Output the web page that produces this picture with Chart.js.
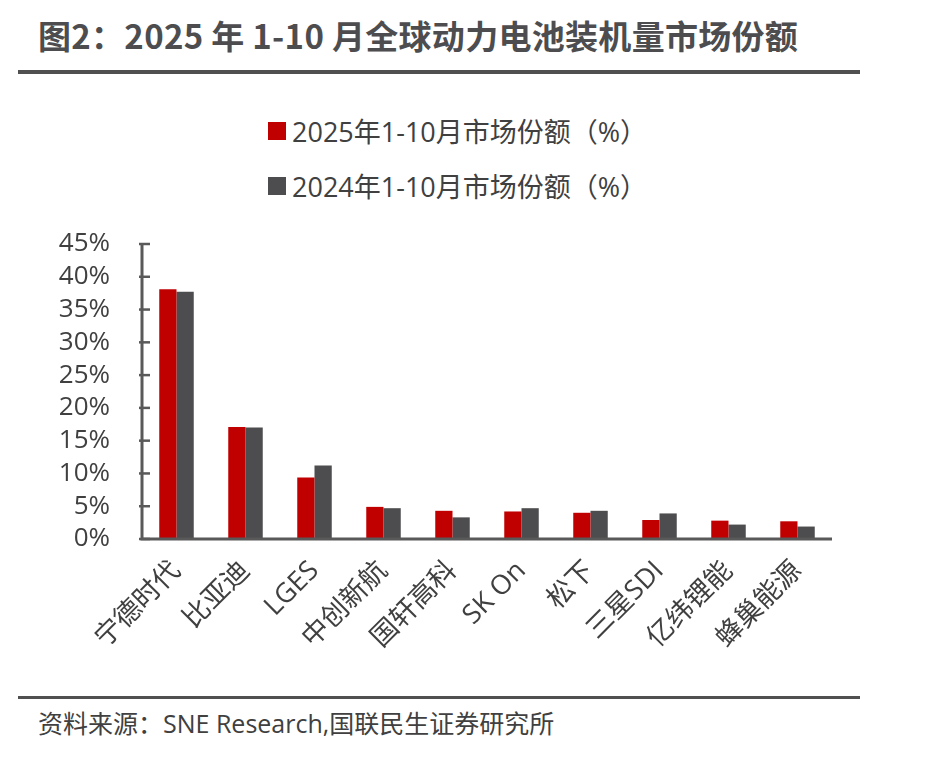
<!DOCTYPE html>
<html>
<head>
<meta charset="utf-8">
<script src="https://cdn.jsdelivr.net/npm/chart.js@4"></script>
<style>
  body { margin: 0; background: #fff; width: 946px; height: 762px; position: relative; overflow: hidden;
         font-family: 'Open Sans', 'Noto Sans CJK SC', sans-serif; color: #404040; }
  .title { position: absolute; left: 38px; top: 11px; font-size: 33px; font-weight: bold; color: #4d4d4f;
           font-family: 'Noto Sans CJK SC', sans-serif; letter-spacing: 0.3px; }
  .rule { position: absolute; left: 18px; width: 842px; background: #505050; }
  .legend { position: absolute; left: 268px; font-size: 27px; color: #404040; }
  .legend div { height: 55px; display: flex; align-items: center; }
  .legend span.sw { display: inline-block; width: 18px; height: 18px; margin-right: 6px; }
  .source { position: absolute; left: 38px; top: 704px; font-size: 25px; color: #404040; }
  #wrap { position: absolute; left: 0; top: 200px; width: 946px; height: 490px; }
</style>
</head>
<body>
<div class="title">图2：2025 年 1-10 月全球动力电池装机量市场份额</div>
<div class="rule" style="top:70px;height:4px"></div>
<div class="legend" id="legend" style="top:103px"></div>
<div id="wrap"><canvas id="chart"></canvas></div>
<div class="rule" style="top:696px;height:3px"></div>
<div class="source">资料来源：SNE Research,国联民生证券研究所</div>
<script>
const companies = ['宁德时代', '比亚迪', 'LGES', '中创新航', '国轩高科', 'SK On', '松下', '三星SDI', '亿纬锂能', '蜂巢能源'];
const share2025 = [38.1, 17.1, 9.4, 4.9, 4.3, 4.2, 4.0, 2.9, 2.8, 2.7];
const share2024 = [37.7, 17.0, 11.2, 4.7, 3.3, 4.7, 4.3, 3.9, 2.2, 1.9];
const yTicks = [0, 5, 10, 15, 20, 25, 30, 35, 40, 45];

const series = [
    { label: '2025年1-10月市场份额（%）', data: share2025, color: '#c00000' },
    { label: '2024年1-10月市场份额（%）', data: share2024, color: '#4d4d4f' }
];

document.getElementById('legend').innerHTML = series.map(s =>
    '<div><span class="sw" style="background:' + s.color + '"></span>' + s.label + '</div>').join('');

// inward tick marks + axis lines like the source
const axisPlugin = {
    id: 'axisPlugin',
    afterDraw(chart) {
        const { ctx, scales: { x, y } } = chart;
        ctx.save();
        ctx.strokeStyle = '#595959';
        ctx.lineWidth = 3;
        ctx.beginPath();
        ctx.moveTo(x.left, y.getPixelForValue(45));
        ctx.lineTo(x.left, y.getPixelForValue(0));
        ctx.lineTo(x.right, y.getPixelForValue(0));
        ctx.stroke();
        ctx.lineWidth = 2.5;
        yTicks.forEach(v => {
            const py = y.getPixelForValue(v);
            ctx.beginPath();
            ctx.moveTo(x.left - 3, py);
            ctx.lineTo(x.left + 8, py);
            ctx.stroke();
        });
        ctx.restore();
    }
};

new Chart(document.getElementById('chart'), {
    type: 'bar',
    data: {
        labels: companies,
        datasets: series.map(s => ({
            label: s.label, data: s.data,
            backgroundColor: s.color,
            categoryPercentage: 0.5, barPercentage: 1.0
        }))
    },
    options: {
        responsive: true, maintainAspectRatio: false, animation: false,
        layout: { padding: { top: 44, right: 114, left: 0, bottom: 0 } },
        plugins: { legend: { display: false }, tooltip: { enabled: false } },
        scales: {
            x: {
                grid: { display: false },
                border: { display: false },
                ticks: { color: '#404040', font: { size: 27, family: "'Open Sans', 'Noto Sans CJK SC'" },
                         minRotation: 45, maxRotation: 45, padding: 8, autoSkip: false },
                afterFit: s => { s.height = 151; }
            },
            y: {
                min: 0, max: 45,
                grid: { display: false },
                border: { display: false },
                ticks: { stepSize: 5, color: '#404040', padding: 24, autoSkip: false,
                         font: { size: 26, family: "'Open Sans', 'Noto Sans CJK SC'" },
                         callback: v => v + '%' },
                afterFit: s => { s.width = 142; }
            }
        }
    },
    plugins: [axisPlugin]
});
</script>
</body>
</html>
